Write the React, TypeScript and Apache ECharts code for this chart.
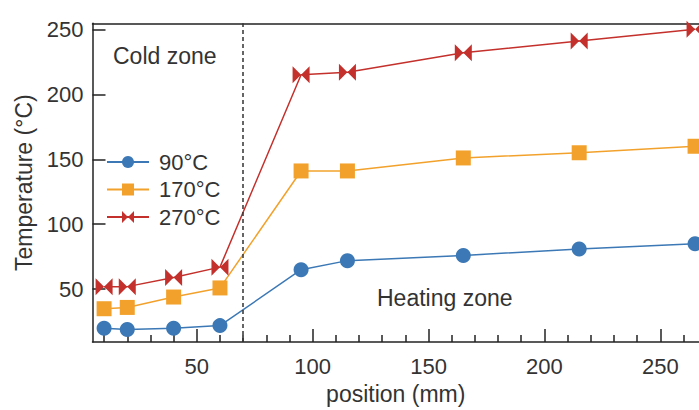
import React, { useEffect, useRef } from "react";
import * as echarts from "echarts";

const positions = [10, 20, 40, 60, 95, 115, 165, 215, 265];
const t90 = [20, 19, 20, 22, 65, 72, 76, 81, 85];
const t170 = [35, 36, 44, 51, 141, 141, 151, 155, 160];
const t270 = [52, 52, 59, 67, 215, 217, 232, 241, 250];
const seriesNames = ["90°C", "170°C", "270°C"];
const xMajorTicks = [50, 100, 150, 200, 250];
const xMinorTicks = [10, 20, 30, 40, 60, 70, 80, 90, 110, 120, 130, 140, 160, 170, 180, 190, 210, 220, 230, 240, 260];
const yTicks = [50, 100, 150, 200, 250];
const zoneBoundary = 70;

const FONT = "Liberation Sans, Arial, Helvetica, sans-serif";
const TXT = "#333333";
const AX = "#222222";
const BOWTIE = "path://M0,0 L10,10 L0,20 Z M20,0 L10,10 L20,20 Z";

export default function App() {
  const ref = useRef<HTMLDivElement>(null);
  useEffect(() => {
    if (!ref.current) return;
    const chart = echarts.init(ref.current, null, { renderer: "svg" });
    const xMin = 5;
    const xMax = 266.7;
    const mk = (xs: number[], ys: number[]) => xs.map((x, i) => [x, ys[i]]);
    chart.setOption({
      animation: false,
      textStyle: { fontFamily: FONT },
      grid: { left: 92.5, right: 0, top: 23.3, bottom: 65, containLabel: false },
      legend: {
        data: seriesNames,
        orient: "vertical",
        left: 101,
        top: 146,
        itemWidth: 42,
        itemHeight: 15,
        itemGap: 5.5,
        textStyle: { fontSize: 22, color: TXT, fontFamily: FONT, lineHeight: 20, padding: [0, 0, 0, 5] },
      },
      xAxis: [
        {
          type: "value",
          min: xMin,
          max: xMax,
          position: "bottom",
          axisLine: { show: true, lineStyle: { color: AX, width: 1.5 } },
          axisTick: { show: true, inside: true, length: 13, customValues: xMajorTicks, lineStyle: { color: AX, width: 1.5 } },
          axisLabel: { customValues: xMajorTicks, fontSize: 22, color: TXT, margin: 13, fontFamily: FONT },
          splitLine: { show: false },
          name: "position (mm)",
          nameLocation: "middle",
          nameGap: 40,
          nameTextStyle: { fontSize: 23, color: TXT, fontFamily: FONT },
        },
        {
          type: "value",
          min: xMin,
          max: xMax,
          position: "bottom",
          axisLine: { show: false },
          axisTick: { show: true, inside: true, length: 7, customValues: xMinorTicks, lineStyle: { color: AX, width: 1.5 } },
          axisLabel: { show: false },
          splitLine: { show: false },
        },
        {
          type: "value",
          min: xMin,
          max: xMax,
          position: "top",
          axisLine: { show: true, lineStyle: { color: AX, width: 1.5 } },
          axisTick: { show: false },
          axisLabel: { show: false },
          splitLine: { show: false },
        },
      ],
      yAxis: {
        type: "value",
        min: 9.4,
        max: 254.6,
        axisLine: { show: true, lineStyle: { color: AX, width: 1.5 } },
        axisTick: { show: true, inside: true, length: 13, customValues: yTicks, lineStyle: { color: AX, width: 1.5 } },
        axisLabel: { customValues: yTicks, fontSize: 22, color: TXT, margin: 9, fontFamily: FONT },
        splitLine: { show: false },
        name: "Temperature (°C)",
        nameLocation: "middle",
        nameGap: 53,
        nameTextStyle: { fontSize: 23, color: TXT, fontFamily: FONT },
      },
      graphic: [
        { type: "text", left: 113, top: 44, style: { text: "Cold zone", fontSize: 23, fill: TXT, fontFamily: FONT } },
        { type: "text", left: 377, top: 286, style: { text: "Heating zone", fontSize: 23, fill: TXT, fontFamily: FONT } },
      ],
      series: [
        {
          name: seriesNames[0],
          type: "line",
          data: mk(positions, t90),
          symbol: "circle",
          symbolSize: 15,
          itemStyle: { color: "#3b78b5" },
          lineStyle: { color: "#3b78b5", width: 1.5 },
          markLine: {
            silent: true,
            symbol: ["none", "none"],
            label: { show: false },
            lineStyle: { color: "#333333", width: 1.5, type: [4, 3] },
            data: [{ xAxis: zoneBoundary }],
          },
        },
        {
          name: seriesNames[1],
          type: "line",
          data: mk(positions, t170),
          symbol: "rect",
          symbolSize: 15,
          itemStyle: { color: "#f2a22c" },
          lineStyle: { color: "#f2a22c", width: 1.5 },
        },
        {
          name: seriesNames[2],
          type: "line",
          data: mk(positions, t270),
          symbol: BOWTIE,
          symbolSize: [17, 17],
          itemStyle: { color: "#c4302b" },
          lineStyle: { color: "#c4302b", width: 1.5 },
        },
      ],
    });
    return () => chart.dispose();
  }, []);
  return <div ref={ref} style={{ width: 699, height: 410, position: "absolute", left: 0, top: 0 }} />;
}
